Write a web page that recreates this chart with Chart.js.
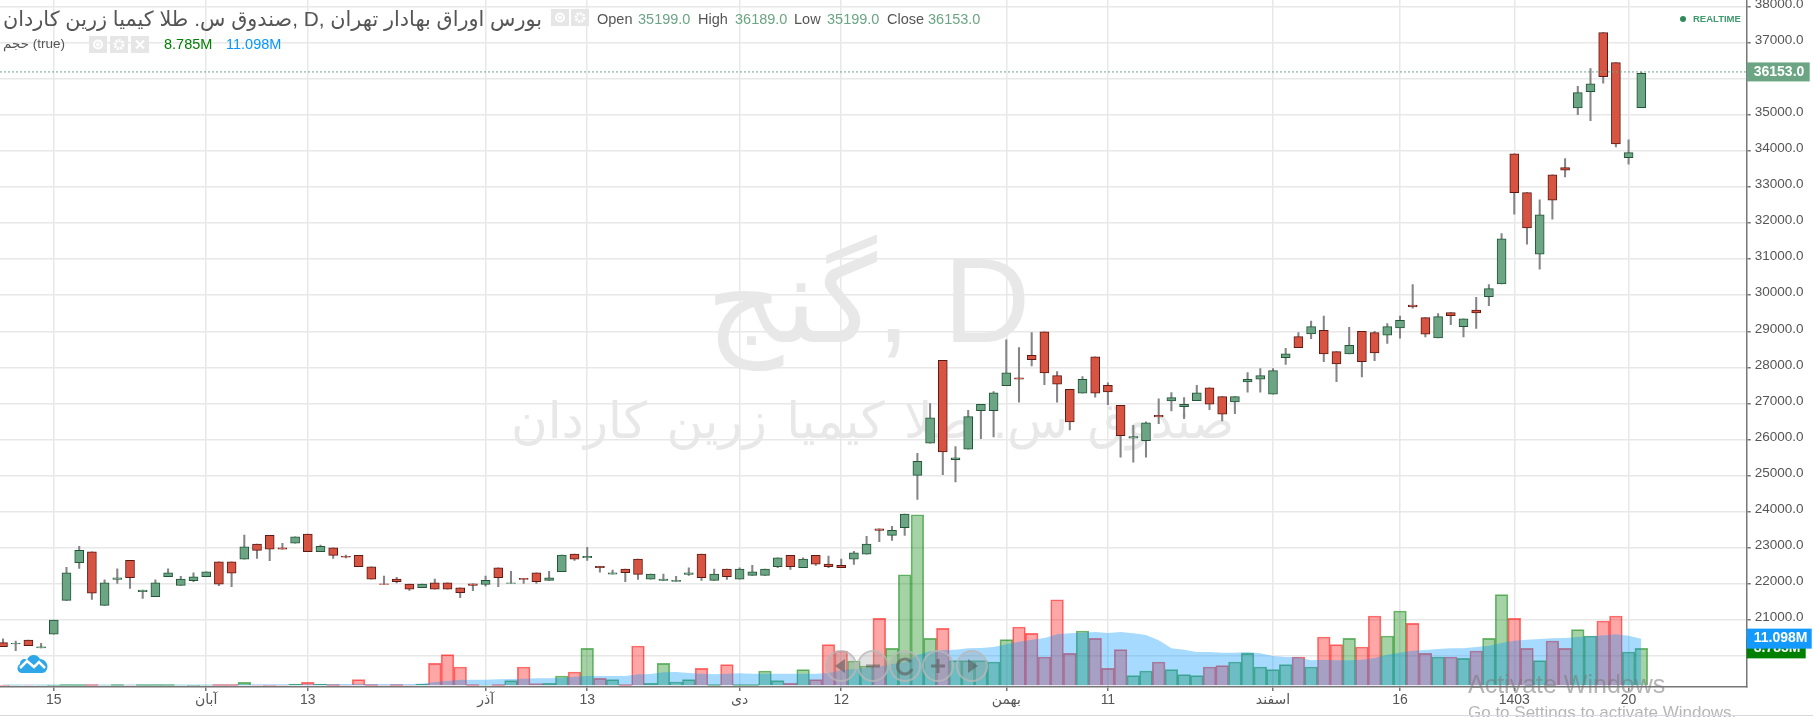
<!DOCTYPE html>
<html>
<head>
<meta charset="utf-8">
<style>
html, body { margin: 0; padding: 0; background: #fff; overflow: hidden; }
#wrap { position: relative; width: 1813px; height: 717px; font-family: "Liberation Sans", "DejaVu Sans", sans-serif; color: #555; filter: blur(0.35px); }
#wrap canvas { position: absolute; left: 0; top: 0; }
.abs { position: absolute; white-space: nowrap; line-height: 1; }
.wm { color: #e8e8e8; }
.ov { font-size: 14.5px; }
.num { color: #6ba583; }
.btn { position: absolute; background: #e6e6e6; width: 18px; height: 17px; }
.nav { position: absolute; width: 28px; height: 28px; border-radius: 50%; top: 650px; background: rgba(160,160,160,.3); border: 2px solid rgba(185,185,185,.75); }
</style>
</head>
<body>
<div id="wrap">
  <div class="abs wm" style="left:706px;top:240px;font-size:120px" dir="ltr">گنج, D</div>
  <div class="abs wm" style="left:511px;top:396px;font-size:50px;word-spacing:5.6px" dir="rtl">صندوق س. طلا کیمیا زرین کاردان</div>
  <canvas id="myChart" width="1813" height="717"></canvas>

  <div class="abs" style="left:3px;top:9px;font-size:20.8px;color:#555" dir="ltr">صندوق س. طلا کیمیا زرین کاردان, D, بورس اوراق بهادار تهران</div>
  <div class="abs" style="left:3px;top:37px;font-size:13.5px;color:#555" dir="ltr">حجم (true)</div>
  <span class="abs ov" style="left:597px;top:12px">Open</span><span class="abs ov num" style="left:638px;top:12px">35199.0</span>
  <span class="abs ov" style="left:698px;top:12px">High</span><span class="abs ov num" style="left:735px;top:12px">36189.0</span>
  <span class="abs ov" style="left:794px;top:12px">Low</span><span class="abs ov num" style="left:827px;top:12px">35199.0</span>
  <span class="abs ov" style="left:887px;top:12px">Close</span><span class="abs ov num" style="left:928px;top:12px">36153.0</span>
  <span class="abs ov" style="left:164px;top:37px;color:#008000">8.785M</span>
  <span class="abs ov" style="left:226px;top:37px;color:#0496ff">11.098M</span>
  <span class="abs" style="left:1693px;top:14px;font-size:9.5px;font-weight:bold;color:#3d9c6b">REALTIME</span>
  <div class="abs" style="left:1680px;top:16px;width:6px;height:6px;border-radius:50%;background:#2e8b57"></div>

  <svg class="abs" style="left:16px;top:653px" width="33" height="21" viewBox="0 0 33 21">
    <path d="M6 20 C1 20 0 13 4 11 C4 6 9 5 11 7 C13 1 21 0 24 6 C29 6 33 12 31 16 C30 19 28 20 26 20 Z" fill="#2ea7e8"/>
    <path d="M4 15 L11 8 L18 14 L23 9 L29 15" fill="none" stroke="#fff" stroke-width="2.5"/>
  </svg>

  <div class="abs" style="left:1468px;top:672px;font-size:25px;color:rgba(120,120,120,.55)">Activate Windows</div>
  <div class="abs" style="left:1468px;top:704px;font-size:17px;color:rgba(120,120,120,.55)">Go to Settings to activate Windows.</div>
  <div class="abs" style="left:0;top:715px;width:1813px;height:1px;background:#d8dae2"></div>
</div>

<script src="https://cdn.jsdelivr.net/npm/chart.js@4/dist/chart.umd.js"></script>
<script>
const OPEN = [20367,20330,20440,20219,20607,21540,22584,22889,21401,22122,
    22649,21780,21642,22196,21956,22085,22196,22612,22612,22686,
    23102,23342,23000,23129,23379,22889,23000,22760,22787,22473,
    22002,22131,21993,21891,22030,22030,21891,22002,21984,22446,
    22011,22150,22307,22094,22335,22824,22723,22483,22270,22409,
    22686,22131,22094,22067,22261,22824,22094,22409,22131,22233,
    22233,22473,22787,22446,22787,22547,22510,22686,22824,23527,
    23342,23554,25005,25896,28197,25444,25730,26802,26802,27495,
    27707,28336,28982,27772,27393,27282,28289,27504,26950,26035,
    25970,26672,27070,26913,27079,27430,27190,27042,27596,27670,
    27255,28270,28852,28926,29028,28436,28372,29000,28963,28889,
    29092,29730,29379,28815,29517,29129,29591,29961,30314,33918,
    32846,31137,33336,33539,35193,35646,37281,36450,33816,35199];
const HIGH = [20477,20413,20440,20348,20995,22455,23037,22889,22113,22418,
    22649,21827,22113,22418,22205,22307,22335,22612,22612,23351,
    23102,23342,23120,23305,23379,23074,23000,22797,22787,22473,
    22215,22178,21993,21993,22131,22030,21891,22002,22215,22446,
    22344,22150,22307,22344,22797,22824,23009,22483,22381,22409,
    22686,22270,22270,22205,22446,22824,22409,22409,22446,22510,
    22409,22723,22787,22723,22787,22769,22686,22898,23314,23527,
    23591,23933,25615,26996,28197,25804,26811,26977,27328,28761,
    28548,28964,28982,27883,27393,27744,28289,27569,26950,26395,
    26488,27125,27301,27162,27504,27430,27190,27190,27855,27966,
    27966,28529,28963,29286,29425,28436,29111,29000,29000,29213,
    29425,30294,29379,29490,29517,29342,29942,30294,31709,33918,
    32846,32643,33336,33788,35793,36283,37281,36450,34306,36189];
const LOW = [20256,20145,20283,20219,20607,21540,22427,21568,21401,22011,
    21873,21596,21642,22196,21956,22058,22196,21947,21919,22686,
    22704,22640,22963,23129,22889,22889,22704,22714,22473,22131,
    21984,22021,21817,21891,21854,21854,21614,21808,21937,21919,
    22011,22011,22011,22094,22335,22649,22649,22325,22270,22058,
    22122,22131,22094,22067,22233,22094,22094,22122,22131,22233,
    22233,22446,22399,22446,22510,22446,22446,22538,22824,23166,
    23203,23342,24340,25896,25028,24824,25730,26026,26072,27495,
    27033,28040,27523,27033,26266,27282,27171,26968,25508,25370,
    25508,26441,26793,26580,27079,26830,26515,26719,27310,27310,
    27255,28085,28547,28797,28159,27605,28372,27734,28187,28667,
    28806,29638,28843,28815,29185,28843,29083,29711,30314,32245,
    31414,30721,32107,33280,35008,34842,35877,34112,33631,35199];
const CLOSE = [20256,20348,20283,20256,20995,22307,22926,21743,22030,22168,
    22168,21827,22030,22307,22131,22196,22335,21993,22298,23028,
    22926,22963,22963,23305,22889,23037,22787,22741,22473,22131,
    21984,22058,21854,21993,21854,21854,21753,21956,22094,22168,
    22030,22122,22058,22168,22797,22686,22760,22446,22307,22307,
    22261,22270,22131,22094,22307,22168,22270,22196,22409,22335,
    22409,22723,22473,22686,22547,22473,22446,22861,23102,23480,
    23480,23933,25393,26599,25656,25490,26635,26977,27292,27846,
    27670,28216,27846,27532,26488,27670,27282,27319,26109,26081,
    26460,26626,27162,26977,27292,26977,26700,27190,27670,27772,
    27911,28372,28547,29129,28372,28094,28612,28159,28399,29129,
    29305,29675,28917,29407,29434,29342,29508,30183,31562,32846,
    31866,32227,32633,33465,35618,35858,36061,34195,33955,36153];
const VOLUME = [.04,.03,.05,.03,.06,.16,.16,.16,.05,.16,
    .05,.16,.16,.16,.05,.04,.05,.16,.16,.71,
    .05,.04,.05,.32,.71,.32,.16,.05,1.35,.16,
    .05,.16,.05,.32,5.23,7.29,4.36,.16,.05,.16,
    1.11,4.36,.40,.48,2.22,3.17,8.79,1.66,1.35,.16,
    9.35,.48,5.23,.79,1.35,4.04,.16,4.91,.16,.16,
    3.41,1.11,.48,3.72,1.35,9.66,8.16,5.78,4.59,15.92,
    8.79,26.29,40.55,11.17,13.54,5.86,5.86,5.86,5.54,10.85,
    13.86,12.36,6.73,20.35,7.60,12.91,11.17,4.04,8.47,2.30,
    3.41,5.54,3.72,2.53,2.30,4.36,4.67,5.54,7.60,4.36,
    3.72,4.91,6.73,4.36,11.48,9.66,11.17,9.11,16.47,11.72,
    17.66,14.73,7.60,6.73,6.73,6.42,8.16,11.17,21.54,15.92,
    8.79,5.86,10.53,8.79,13.23,11.72,15.29,16.47,7.92,8.785];
const VOLUME_MA = [.18,.18,.18,.19,.19,.19,.2,.2,.2,.2,
    .2,.21,.21,.21,.21,.21,.22,.22,.22,.24,
    .24,.26,.26,.28,.28,.3,.3,.3,.32,.32,
    .32,.33,.33,.35,.79,1.03,1.35,1.35,1.35,1.43,
    1.5,1.58,1.66,1.66,1.74,2.06,2.22,2.22,2.22,2.22,
    2.61,2.69,3.09,3.17,2.93,2.77,2.61,2.77,2.85,2.77,
    2.77,2.77,2.77,2.77,2.77,2.93,3.56,3.88,4.12,4.44,
    5.07,5.5,7.2,8.08,8.40,8.47,8.79,8.87,9.11,9.74,
    10.38,10.85,11.25,12.12,12.36,12.51,12.67,12.43,12.67,12.36,
    11.96,10.69,8.79,8.47,7.92,7.92,7.76,7.76,7.92,7.60,
    6.97,6.73,6.65,5.94,6.10,5.94,5.94,6.10,6.49,7.29,
    7.76,8.24,8.40,8.63,8.79,8.79,9.11,9.42,10.06,10.61,
    10.85,11.01,11.17,11.25,11.48,11.64,11.88,12.12,11.80,11.098];

const TICK_INDEX = [4, 16, 24, 38, 46, 58, 66, 79, 87, 100, 110, 119, 128];
const TICK_LABELS = ['15', 'آبان', '13', 'آذر', '13', 'دی', '12', 'بهمن', '11', 'اسفند', '16', '1403', '20'];
const PRICE_TICKS = [20000, 21000, 22000, 23000, 24000, 25000, 26000, 27000, 28000, 29000, 30000, 31000, 32000, 33000, 34000, 35000, 36000, 37000, 38000];

const LAST_LINE = 36190;      // where the dotted line sits in the picture
const LAST_PRICE = '36153.0';
const LAST_VOLUME = 8.785;
const LAST_MA = 11.098;

const UP = '#6ba583', DOWN = '#d75442';
const UP_EDGE = '#225437', DOWN_EDGE = '#5b1a13';
const FONT = '"Liberation Sans", "DejaVu Sans", sans-serif';
const XMIN = -0.236, XMAX = 137.3;

const isUp = CLOSE.map((c, i) => c >= OPEN[i]);

// price boxes on the right axis
const axisBoxes = {
    id: 'axisBoxes',
    afterDraw(chart) {
        const { ctx, scales } = chart;
        const left = scales.x.right;
        const box = (y, w, h, color, text) => {
            ctx.fillStyle = color;
            ctx.fillRect(left, y - h / 2, w, h);
            ctx.fillStyle = '#fff';
            ctx.font = 'bold 14px ' + FONT;
            ctx.textAlign = 'left';
            ctx.textBaseline = 'middle';
            ctx.fillText(text, left + 7, y);
        };
        box(scales.vol.getPixelForValue(LAST_VOLUME), 59, 20, '#008000', LAST_VOLUME.toFixed(3) + 'M');
        box(scales.vol.getPixelForValue(LAST_MA), 65, 20, '#1499ff', LAST_MA.toFixed(3) + 'M');
        box(scales.y.getPixelForValue(LAST_LINE), 63, 19, UP, LAST_PRICE);
    }
};

const myChart = new Chart(document.getElementById('myChart'), {
    type: 'bar',
    data: {
        datasets: [
            {
                type: 'line',
                data: [{ x: XMIN, y: LAST_LINE }, { x: XMAX, y: LAST_LINE }],
                borderColor: UP,
                borderWidth: 1,
                borderDash: [2, 2],
                pointRadius: 0,
                order: 0
            },
            {
                data: OPEN.map((o, i) => ({ x: i, y: [Math.min(o, CLOSE[i]), Math.max(o, CLOSE[i])] })),
                backgroundColor: isUp.map(u => u ? UP : DOWN),
                borderColor: isUp.map(u => u ? UP_EDGE : DOWN_EDGE),
                borderWidth: 1,
                borderSkipped: false,
                barThickness: 9,
                order: 1
            },
            {
                data: HIGH.map((h, i) => ({ x: i, y: [LOW[i], h] })),
                backgroundColor: '#858587',
                barThickness: 1.4,
                order: 2
            },
            {
                type: 'line',
                data: VOLUME_MA.map((v, i) => ({ x: i, y: v })),
                yAxisID: 'vol',
                fill: 'origin',
                backgroundColor: 'rgba(4,150,255,0.35)',
                borderWidth: 0,
                pointRadius: 0,
                order: 3
            },
            {
                data: VOLUME.map((v, i) => ({ x: i, y: v })),
                yAxisID: 'vol',
                backgroundColor: isUp.map(u => u ? 'rgba(0,128,0,0.35)' : 'rgba(255,0,0,0.35)'),
                borderColor: isUp.map(u => u ? 'rgba(0,128,0,0.55)' : 'rgba(255,0,0,0.55)'),
                borderWidth: 1,
                barThickness: 12.7,
                order: 4
            }
        ]
    },
    plugins: [axisBoxes],
    options: {
        responsive: false,
        animation: false,
        grouped: false,
        layout: { padding: 0 },
        plugins: { legend: { display: false }, tooltip: { enabled: false } },
        scales: {
            x: {
                type: 'linear',
                offset: false,
                min: XMIN,
                max: XMAX,
                afterBuildTicks: s => { s.ticks = TICK_INDEX.map(v => ({ value: v })); },
                afterFit: s => { s.height = 30; s.paddingLeft = 0; s.paddingRight = 0; },
                grid: { offset: false, color: '#e8e8e8', lineWidth: 1.5, tickLength: 4, tickColor: '#777' },
                border: { color: '#777', width: 1.5 },
                ticks: {
                    autoSkip: false,
                    maxRotation: 0,
                    padding: 1,
                    color: '#555',
                    font: { family: FONT, size: 14 },
                    callback: v => TICK_LABELS[TICK_INDEX.indexOf(v)]
                }
            },
            y: {
                position: 'right',
                min: 19139,
                max: 38184,
                afterBuildTicks: s => { s.ticks = PRICE_TICKS.map(v => ({ value: v })); },
                afterFit: s => { s.width = 66.3; s.paddingTop = 0; s.paddingBottom = 0; },
                grid: { color: '#e8e8e8', lineWidth: 1.5, tickLength: 4, tickColor: '#777' },
                border: { color: '#777', width: 1.5 },
                ticks: {
                    autoSkip: false,
                    padding: 4,
                    color: '#555',
                    font: { family: FONT, size: 13.5, lineHeight: '5px' },
                    // the empty second line lifts the label a little above its grid line
                    callback: v => [v.toFixed(1), '']
                }
            },
            vol: {
                display: false,
                position: 'left',
                min: -0.4,
                max: 162.9
            }
        }
    }
});

// small header buttons
function addBtn(x, y, icon) {
    const d = document.createElement('div');
    d.className = 'btn';
    d.style.left = x + 'px';
    d.style.top = y + 'px';
    d.innerHTML = '<svg width="18" height="17" viewBox="0 0 18 17" fill="none" stroke="#fff" stroke-width="2">' + icon + '</svg>';
    document.getElementById('wrap').appendChild(d);
}
const EYE = '<circle cx="9" cy="8.5" r="4"/><circle cx="9" cy="8.5" r="1" fill="#fff"/>';
const GEAR = '<circle cx="9" cy="8.5" r="4" stroke-width="3" stroke-dasharray="2 1"/>';
const CROSS = '<path d="M5 4.5 L13 12.5 M13 4.5 L5 12.5"/>';
addBtn(551, 9, EYE);
addBtn(571, 9, GEAR);
addBtn(89, 36, EYE);
addBtn(110, 36, GEAR);
addBtn(131, 36, CROSS);

// scroll buttons at the bottom of the chart
const NAV_X = [825, 857, 889, 922, 956];
const NAV_ICON = [
    '<path d="M18 7 L8 14 L18 21 Z"/>',
    '<rect x="7" y="12.5" width="14" height="3"/>',
    '<path d="M20 10 A7.5 7.5 0 1 0 21 17" fill="none" stroke="rgba(90,90,90,.6)" stroke-width="3"/>',
    '<path d="M12.5 7 h3 v5.5 h5.5 v3 h-5.5 v5.5 h-3 v-5.5 h-5.5 v-3 h5.5 Z"/>',
    '<path d="M10 7 L20 14 L10 21 Z"/>'
];
NAV_X.forEach((x, i) => {
    const d = document.createElement('div');
    d.className = 'nav';
    d.style.left = x + 'px';
    d.innerHTML = '<svg width="28" height="28" fill="rgba(90,90,90,.6)">' + NAV_ICON[i] + '</svg>';
    document.getElementById('wrap').appendChild(d);
});
</script>
</body>
</html>
